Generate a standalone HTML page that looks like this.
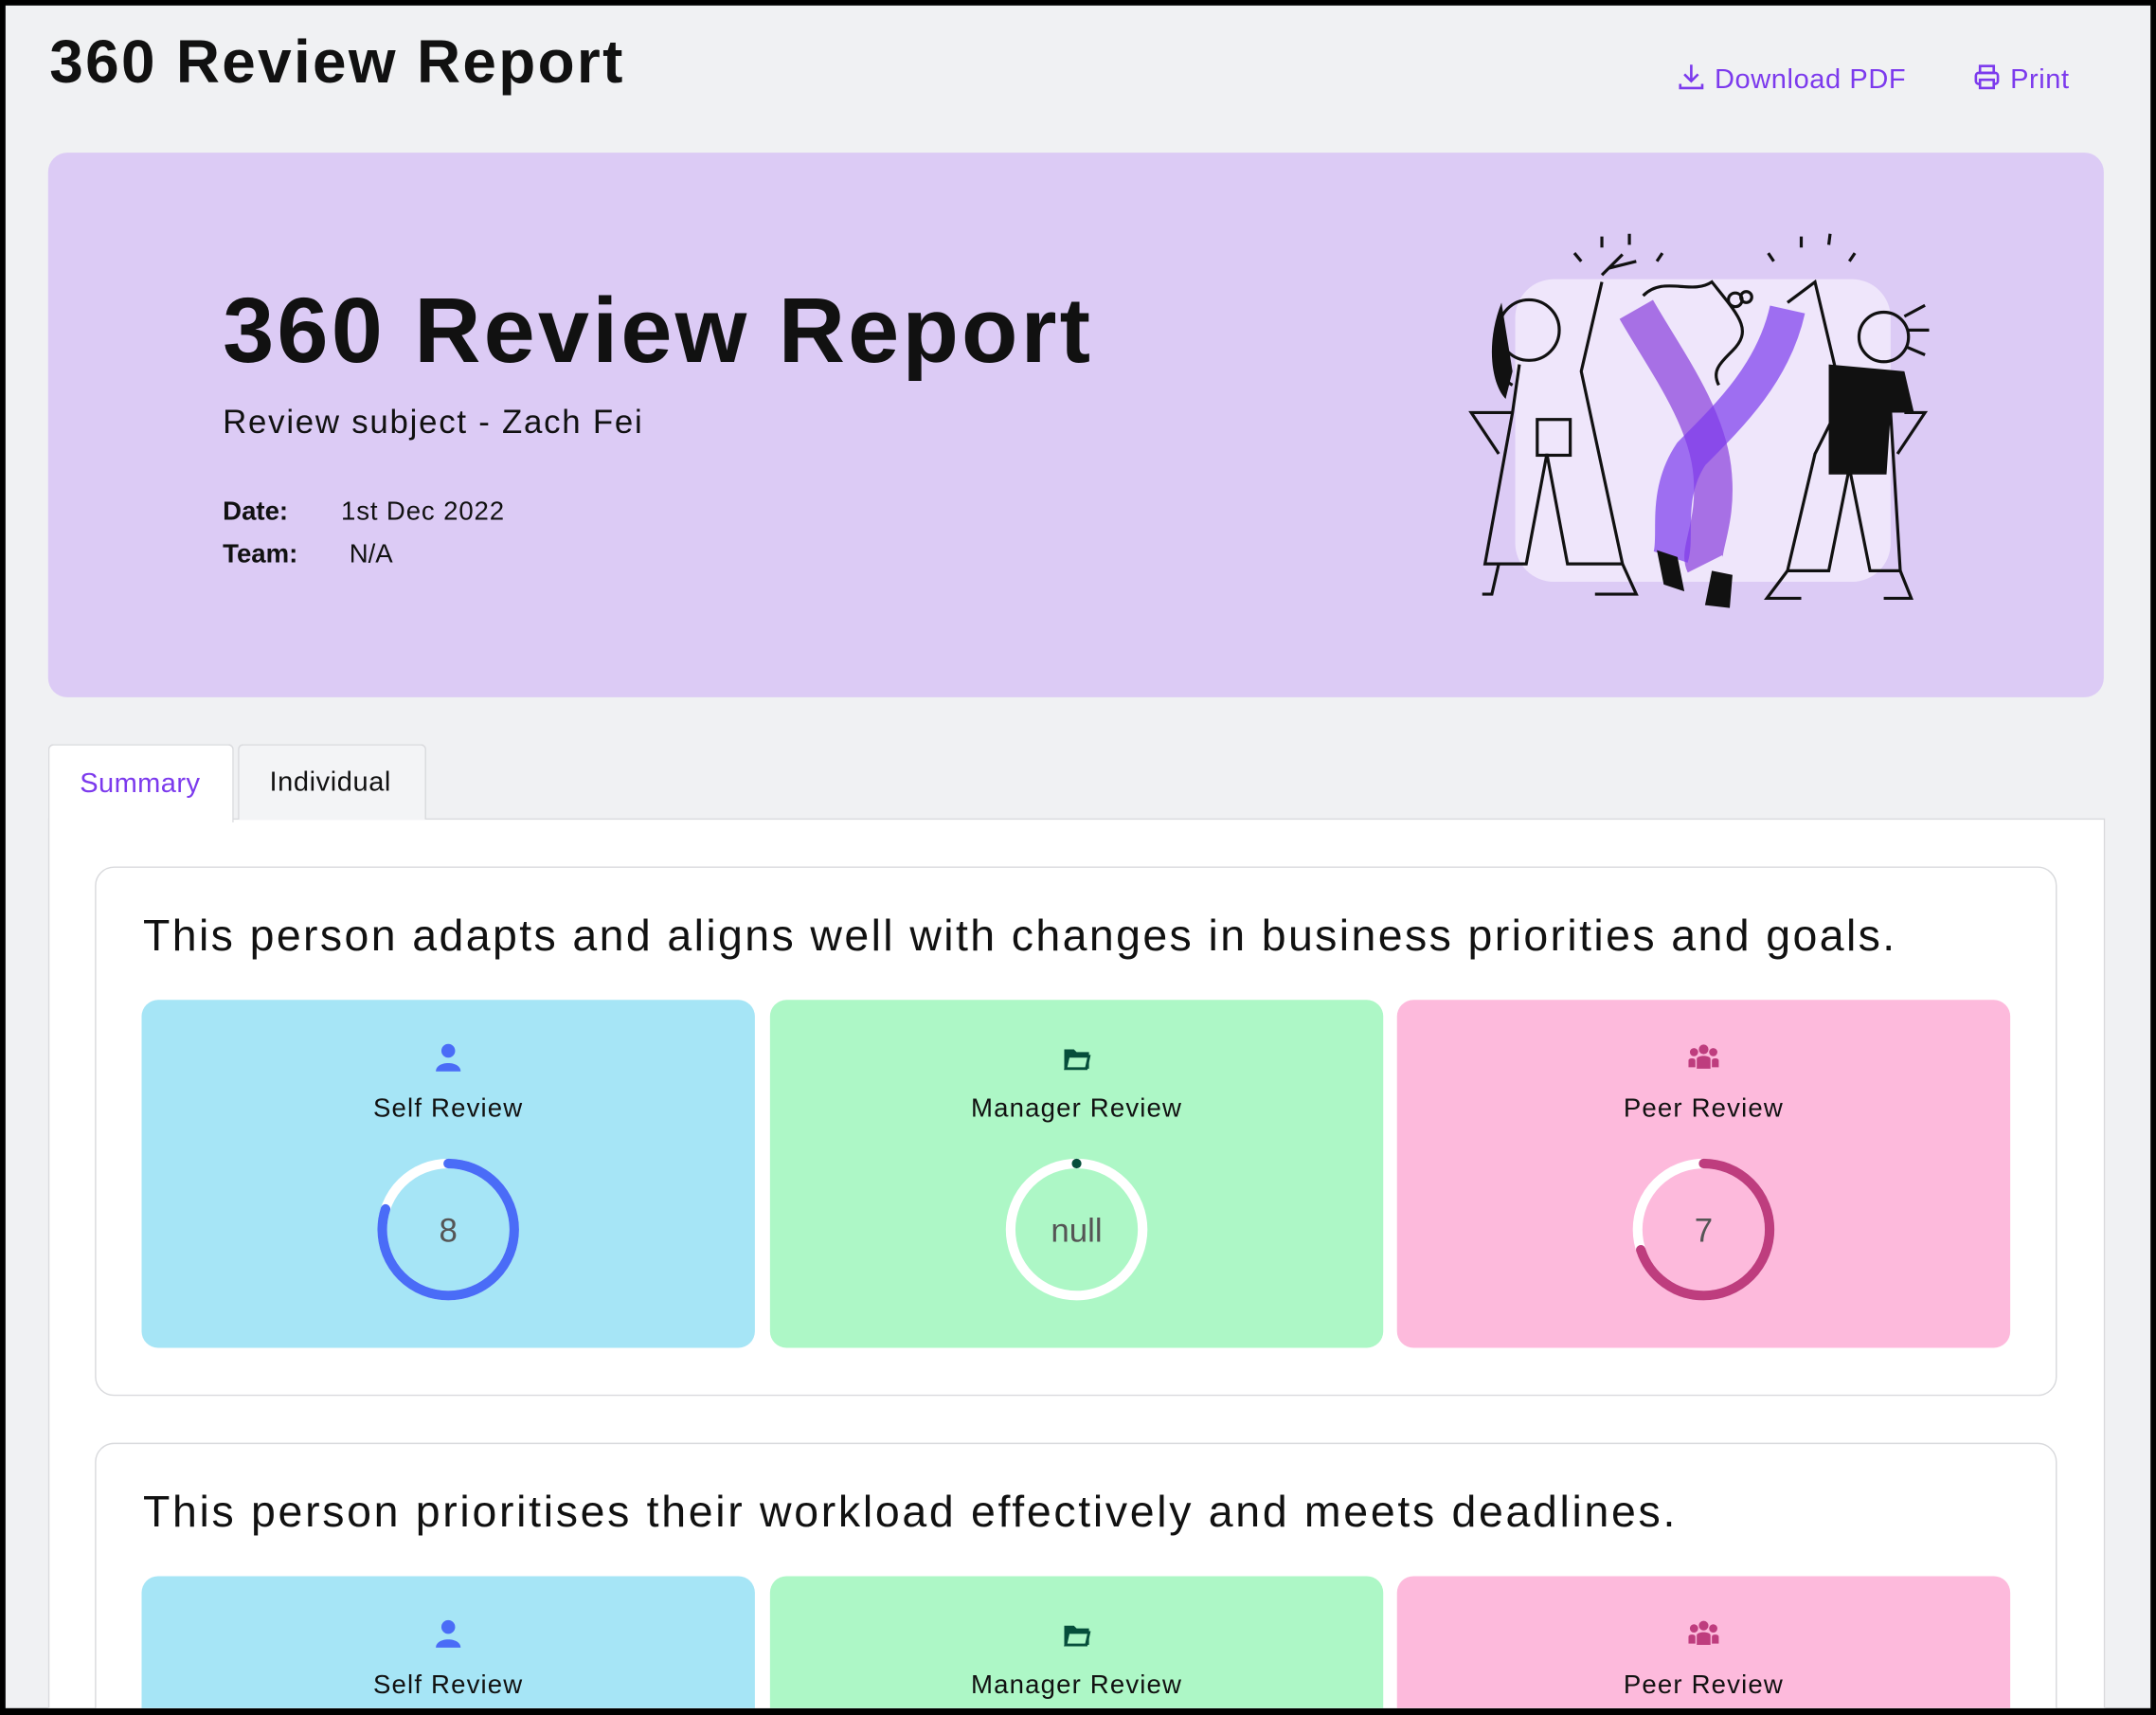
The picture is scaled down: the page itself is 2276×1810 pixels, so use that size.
<!DOCTYPE html>
<html><head><meta charset="utf-8"><style>
html,body{margin:0;padding:0;background:#000;overflow:hidden;}
body{width:2276px;height:1810px;overflow:hidden;position:relative;font-family:"Liberation Sans",sans-serif;}
#w{position:absolute;left:0;top:0;width:1568px;height:1247px;transform:scale(1.45153);transform-origin:0 0;overflow:hidden;}
#bg{position:absolute;left:4px;top:4px;width:1560px;height:1238px;background:#f0f1f3;overflow:hidden;}
.a{position:absolute;white-space:nowrap;}
.sub{position:absolute;border-radius:12px;width:446px;height:253px;overflow:hidden;}
.lbl{position:absolute;left:0;width:100%;text-align:center;font-size:19px;color:#111;letter-spacing:0.8px;}
.ic{position:absolute;left:50%;transform:translateX(-50%);}
</style></head><body><div id="w"><div id="bg">
<div class="a" style="left:32px;top:17px;font-size:44px;font-weight:bold;color:#111;letter-spacing:1.6px">360 Review Report</div>
<div class="a" style="left:1215px;top:41px;font-size:20px;color:#7c3aed;letter-spacing:0.4px"><svg width="22" height="22" viewBox="0 0 22 22" style="vertical-align:-3px"><path d="M11 2v12M6 9l5 5 5-5M3 16v3h16v-3" stroke="#7c3aed" stroke-width="1.8" fill="none"/></svg> Download PDF</div>
<div class="a" style="left:1430px;top:41px;font-size:20px;color:#7c3aed;letter-spacing:0.4px"><svg width="22" height="22" viewBox="0 0 22 22" style="vertical-align:-3px"><rect x="6" y="3" width="10" height="5" fill="none" stroke="#7c3aed" stroke-width="1.8"/><rect x="3" y="8" width="16" height="8" rx="2" fill="none" stroke="#7c3aed" stroke-width="1.8"/><rect x="6" y="13" width="10" height="6" fill="#f0f1f3" stroke="#7c3aed" stroke-width="1.8"/></svg> Print</div>

<div class="a" style="left:31px;top:107px;width:1495px;height:396px;background:#dccbf5;border-radius:14px"></div>
<div class="a" style="left:158px;top:198px;font-size:67px;font-weight:bold;color:#111;letter-spacing:2.2px">360 Review Report</div>
<div class="a" style="left:158px;top:290px;font-size:24px;color:#111;letter-spacing:1.2px">Review subject - Zach Fei</div>
<div class="a" style="left:158px;top:358px;font-size:19px;font-weight:bold;color:#111">Date:</div>
<div class="a" style="left:244px;top:358px;font-size:19px;color:#111;letter-spacing:0.6px">1st Dec 2022</div>
<div class="a" style="left:158px;top:389px;font-size:19px;font-weight:bold;color:#111">Team:</div>
<div class="a" style="left:250px;top:389px;font-size:19px;color:#111">N/A</div>
<svg class="a" style="left:-4px;top:-4px" width="1568" height="520" viewBox="0 0 1568 520">
<rect x="1102" y="203" width="273" height="220" rx="28" fill="#efe6fb"/>
<path d="M1190 225 C1210 260 1240 300 1245 340 C1250 380 1235 400 1240 410" stroke="#9a5ae0" stroke-width="28" fill="none" opacity="0.85"/>
<path d="M1300 225 C1290 270 1260 300 1230 330 C1210 360 1220 390 1215 405" stroke="#7c3aed" stroke-width="26" fill="none" opacity="0.7"/>
<g stroke="#111" stroke-width="2.2" fill="none">
<circle cx="1112" cy="240" r="22"/><path d="M1090 240 C1085 260 1090 275 1100 280"/>
<path d="M1105 265 L1100 300 L1080 410 L1110 410 L1125 330 L1140 410 L1180 410 L1150 270 L1165 205"/>
<rect x="1118" y="305" width="24" height="26"/><path d="M1100 300 L1070 300 L1090 330"/>
<path d="M1180 410 L1190 432 L1160 432"/><path d="M1090 410 L1085 432 L1078 432"/>
<path d="M1165 200 L1180 185 M1170 195 L1190 190"/><path d="M1150 190 l-5 -6 M1165 180 l0 -8 M1185 178 l0 -8 M1205 190 l4 -6"/>
<path d="M1195 215 C1210 200 1230 215 1245 205 C1265 230 1275 240 1260 255 C1250 265 1245 270 1250 280"/>
<circle cx="1262" cy="218" r="5"/><circle cx="1270" cy="216" r="4"/>
<path d="M1300 220 L1320 205 L1340 290 L1320 330 L1300 415 L1330 415 L1345 340 L1360 415 L1382 415 L1375 300"/>
<circle cx="1370" cy="245" r="18"/><path d="M1385 230 l15 -8 M1388 240 l15 0 M1386 252 l14 6"/>
<path d="M1300 415 L1285 435 L1310 435 M1382 415 L1390 435 L1370 435"/>
<path d="M1290 190 l-4 -6 M1310 180 l0 -8 M1330 178 l1 -8 M1345 190 l4 -6"/>
<path d="M1385 300 L1400 300 L1380 330"/>
</g>
<path d="M1330 265 L1385 270 L1392 300 L1375 300 L1372 345 L1330 345 Z" fill="#111"/>
<path d="M1092 220 C1080 250 1085 280 1095 290 L1100 270 Z" fill="#111"/>
<path d="M1205 400 L1210 425 L1225 430 L1220 405Z M1245 415 L1240 440 L1258 442 L1260 418Z" fill="#111"/>
</svg>

<div class="a" style="left:31px;top:591px;width:1494px;height:660px;background:#fff;border:1px solid #d9dadd"></div>
<div class="a" style="left:169px;top:537px;width:135px;height:54px;background:#f3f4f6;border:1px solid #d9dadd;border-bottom:none;border-radius:4px 4px 0 0"></div>
<div class="a" style="left:31px;top:537px;width:133px;height:56px;background:#fff;border:1px solid #d9dadd;border-bottom:none;border-radius:4px 4px 0 0"></div>
<div class="a" style="left:54px;top:555px;font-size:20px;color:#7c3aed;letter-spacing:0.3px">Summary</div>
<div class="a" style="left:192px;top:554px;font-size:20px;color:#111;letter-spacing:0.4px">Individual</div>

<div class="a" style="left:65px;top:626px;width:1425px;height:383px;border:1px solid #d9dadd;border-radius:14px;background:#fff"></div>
<div class="a" style="left:100px;top:658px;font-size:32px;color:#111;letter-spacing:1.65px">This person adapts and aligns well with changes in business priorities and goals.</div>

<div class="sub" style="left:99px;top:723px;background:#a6e5f6">
<svg class="ic" style="top:31px" width="22" height="22" viewBox="0 0 22 22"><circle cx="11" cy="6" r="5" fill="#4a6cf7"/><path d="M2 21 C2 13 20 13 20 21Z" fill="#4a6cf7"/></svg>
<div class="lbl" style="top:69px">Self Review</div>
<svg class="ic" style="top:112px" width="110" height="110" viewBox="0 0 110 110"><circle cx="55" cy="55" r="48" fill="none" stroke="#fff" stroke-width="7"/><circle cx="55" cy="55" r="48" fill="none" stroke="#4a6cf7" stroke-width="7" stroke-dasharray="241.3 400" stroke-linecap="round" transform="rotate(-90 55 55)"/><text x="55" y="64" text-anchor="middle" font-size="24" fill="#555" font-family="Liberation Sans">8</text></svg>
</div>
<div class="sub" style="left:556px;top:723px;background:#adf7c6">
<svg class="ic" style="top:33px" width="22" height="20" viewBox="0 0 22 20"><path d="M2 3h7l2 2h9v12H2Z" fill="#064e3b"/><path d="M5 8h15l-2 9H3Z" fill="#adf7c6" stroke="#064e3b" stroke-width="2"/></svg>
<div class="lbl" style="top:69px">Manager Review</div>
<svg class="ic" style="top:112px" width="110" height="110" viewBox="0 0 110 110"><circle cx="55" cy="55" r="48" fill="none" stroke="#fff" stroke-width="7"/><circle cx="55" cy="7" r="3.5" fill="#064e3b"/><text x="55" y="64" text-anchor="middle" font-size="24" fill="#555" font-family="Liberation Sans">null</text></svg>
</div>
<div class="sub" style="left:1012px;top:723px;background:#fdbadc">
<svg class="ic" style="top:32px" width="24" height="20" viewBox="0 0 24 20"><circle cx="12" cy="4" r="3.5" fill="#be3d7e"/><circle cx="5" cy="6" r="3" fill="#be3d7e"/><circle cx="19" cy="6" r="3" fill="#be3d7e"/><path d="M7 18v-7c0-3 10-3 10 0v7ZM1 17v-5c0-2 5-2 5 0v5ZM18 17v-5c0-2 5-2 5 0v5Z" fill="#be3d7e"/></svg>
<div class="lbl" style="top:69px">Peer Review</div>
<svg class="ic" style="top:112px" width="110" height="110" viewBox="0 0 110 110"><circle cx="55" cy="55" r="48" fill="none" stroke="#fff" stroke-width="7"/><circle cx="55" cy="55" r="48" fill="none" stroke="#be3d7e" stroke-width="7" stroke-dasharray="211.1 400" stroke-linecap="round" transform="rotate(-90 55 55)"/><text x="55" y="64" text-anchor="middle" font-size="24" fill="#555" font-family="Liberation Sans">7</text></svg>
</div>

<div class="a" style="left:65px;top:1045px;width:1425px;height:383px;border:1px solid #d9dadd;border-radius:14px;background:#fff"></div>
<div class="a" style="left:100px;top:1077px;font-size:32px;color:#111;letter-spacing:1.85px">This person prioritises their workload effectively and meets deadlines.</div>
<div class="sub" style="left:99px;top:1142px;background:#a6e5f6">
<svg class="ic" style="top:31px" width="22" height="22" viewBox="0 0 22 22"><circle cx="11" cy="6" r="5" fill="#4a6cf7"/><path d="M2 21 C2 13 20 13 20 21Z" fill="#4a6cf7"/></svg>
<div class="lbl" style="top:69px">Self Review</div></div>
<div class="sub" style="left:556px;top:1142px;background:#adf7c6">
<svg class="ic" style="top:33px" width="22" height="20" viewBox="0 0 22 20"><path d="M2 3h7l2 2h9v12H2Z" fill="#064e3b"/><path d="M5 8h15l-2 9H3Z" fill="#adf7c6" stroke="#064e3b" stroke-width="2"/></svg>
<div class="lbl" style="top:69px">Manager Review</div></div>
<div class="sub" style="left:1012px;top:1142px;background:#fdbadc">
<svg class="ic" style="top:32px" width="24" height="20" viewBox="0 0 24 20"><circle cx="12" cy="4" r="3.5" fill="#be3d7e"/><circle cx="5" cy="6" r="3" fill="#be3d7e"/><circle cx="19" cy="6" r="3" fill="#be3d7e"/><path d="M7 18v-7c0-3 10-3 10 0v7ZM1 17v-5c0-2 5-2 5 0v5ZM18 17v-5c0-2 5-2 5 0v5Z" fill="#be3d7e"/></svg>
<div class="lbl" style="top:69px">Peer Review</div></div>
</div></div></body></html>
